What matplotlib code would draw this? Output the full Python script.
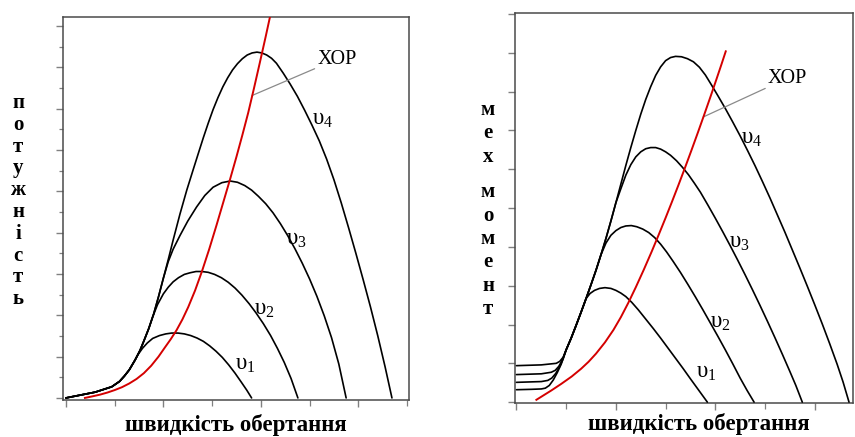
import matplotlib
matplotlib.use("Agg")
import matplotlib.pyplot as plt
from matplotlib.ticker import MultipleLocator

plt.rcParams["mathtext.fontset"] = "custom"
plt.rcParams["mathtext.rm"] = "Liberation Serif"
plt.rcParams["mathtext.it"] = "Liberation Serif:italic"

# ---------------- power vs rotation speed ----------------
# common rising part shared by all four curves
power_rise_x = [0.0, 0.3, 0.6, 0.94, 1.1, 1.2, 1.3, 1.42, 1.52, 1.6, 1.7, 1.8, 1.9,
                2.0, 2.1, 2.2, 2.34, 2.48, 2.61, 2.72, 2.82, 2.92, 3.02, 3.12, 3.22,
                3.32, 3.42, 3.52, 3.62, 3.72, 3.82]
power_rise_y = [0.0, 0.07, 0.14, 0.27, 0.40, 0.53, 0.68, 0.92, 1.15, 1.38, 1.68, 2.03, 2.45,
                2.90, 3.35, 3.82, 4.45, 5.03, 5.52, 5.93, 6.30, 6.65, 6.98, 7.27, 7.53,
                7.75, 7.94, 8.09, 8.21, 8.30, 8.35]

power_v1_x = [1.48, 1.57, 1.67, 1.78, 1.92, 2.05, 2.17, 2.30, 2.43, 2.56, 2.69, 2.82,
              2.95, 3.08, 3.21, 3.34, 3.47, 3.60, 3.71, 3.81]
power_v1_y = [1.05, 1.20, 1.33, 1.44, 1.51, 1.55, 1.57, 1.57, 1.55, 1.51, 1.45, 1.37,
              1.26, 1.13, 0.98, 0.80, 0.60, 0.38, 0.19, 0.0]
power_v2_x = [1.78, 1.88, 2.00, 2.10, 2.20, 2.31, 2.43, 2.55, 2.67, 2.79, 2.92, 3.05,
              3.19, 3.33, 3.47, 3.61, 3.76, 3.90, 4.05, 4.20, 4.34, 4.48, 4.62, 4.76]
power_v2_y = [1.96, 2.26, 2.52, 2.68, 2.81, 2.91, 2.99, 3.03, 3.06, 3.06, 3.04, 2.99,
              2.91, 2.80, 2.66, 2.49, 2.28, 2.06, 1.80, 1.51, 1.20, 0.86, 0.47, 0.0]
power_v3_x = [2.10, 2.20, 2.34, 2.50, 2.68, 2.85, 3.02, 3.20, 3.37, 3.52, 3.67, 3.81,
              3.95, 4.10, 4.25, 4.40, 4.55, 4.70, 4.85, 5.00, 5.15, 5.30, 5.45, 5.60, 5.75]
power_v3_y = [3.30, 3.60, 3.93, 4.28, 4.62, 4.90, 5.10, 5.21, 5.25, 5.22, 5.14, 5.03,
              4.88, 4.70, 4.48, 4.22, 3.93, 3.61, 3.26, 2.88, 2.46, 1.99, 1.46, 0.82, 0.0]
power_v4_x = [3.92, 4.02, 4.12, 4.22, 4.32, 4.46, 4.60, 4.75, 4.90, 5.05, 5.20, 5.35,
              5.50, 5.65, 5.80, 5.95, 6.10, 6.25, 6.40, 6.55, 6.69]
power_v4_y = [8.37, 8.35, 8.30, 8.22, 8.10, 7.86, 7.60, 7.30, 6.96, 6.60, 6.22, 5.78,
              5.28, 4.72, 4.12, 3.50, 2.86, 2.20, 1.50, 0.75, 0.0]

power_hop_x = [0.39, 0.55, 0.70, 0.85, 1.00, 1.15, 1.30, 1.45, 1.60, 1.75, 1.90, 2.03,
               2.15, 2.27, 2.39, 2.51, 2.65, 2.79, 2.94, 3.09, 3.23, 3.37, 3.50, 3.62,
               3.74, 3.86, 3.98, 4.10, 4.22]
power_hop_y = [0.0, 0.04, 0.08, 0.13, 0.19, 0.26, 0.35, 0.46, 0.60, 0.78, 1.00, 1.22,
               1.42, 1.64, 1.90, 2.20, 2.60, 3.06, 3.60, 4.18, 4.74, 5.30, 5.84, 6.36,
               6.90, 7.50, 8.12, 8.75, 9.40]

# ---------------- torque vs rotation speed ----------------
torque_rise_x = [1.0, 1.1, 1.2, 1.3, 1.4, 1.5, 1.6, 1.7, 1.8, 1.9, 2.0, 2.1, 2.2, 2.3,
                 2.4, 2.5, 2.6, 2.7, 2.8, 2.9, 3.0, 3.1]
torque_rise_y = [1.35, 1.65, 1.98, 2.32, 2.67, 3.03, 3.40, 3.80, 4.22, 4.67, 5.14, 5.62,
                 6.10, 6.56, 7.00, 7.42, 7.80, 8.13, 8.42, 8.64, 8.80, 8.88]

# starting (low speed) parts of each curve
torque_start_v1_x = [0.0, 0.3, 0.5, 0.58, 0.66, 0.74, 0.82, 0.90]
torque_start_v1_y = [0.32, 0.33, 0.34, 0.36, 0.43, 0.57, 0.76, 0.98]
torque_start_v2_x = [0.0, 0.5, 0.63, 0.71, 0.79, 0.87, 0.94]
torque_start_v2_y = [0.51, 0.53, 0.56, 0.62, 0.74, 0.92, 1.12]
torque_start_v3_x = [0.0, 0.5, 0.70, 0.78, 0.85, 0.92]
torque_start_v3_y = [0.71, 0.73, 0.77, 0.82, 0.92, 1.08]
torque_start_v4_x = [0.0, 0.5, 0.80, 0.87, 0.94]
torque_start_v4_y = [0.94, 0.96, 1.00, 1.05, 1.16]

torque_v1_x = [1.48, 1.57, 1.67, 1.78, 1.90, 2.00, 2.10, 2.20, 2.32, 2.45, 2.60, 2.75,
               2.90, 3.05, 3.20, 3.35, 3.50, 3.67, 3.84]
torque_v1_y = [2.80, 2.88, 2.93, 2.95, 2.93, 2.88, 2.81, 2.72, 2.57, 2.38, 2.14, 1.90,
               1.65, 1.39, 1.13, 0.87, 0.60, 0.30, 0.0]
torque_v2_x = [1.80, 1.90, 2.00, 2.10, 2.20, 2.31, 2.42, 2.54, 2.66, 2.78, 2.90, 3.02,
               3.15, 3.30, 3.45, 3.60, 3.75, 3.90, 4.05, 4.20, 4.35, 4.50, 4.64, 4.78]
torque_v2_y = [4.10, 4.30, 4.42, 4.50, 4.54, 4.55, 4.52, 4.46, 4.37, 4.24, 4.07, 3.87,
               3.63, 3.34, 3.03, 2.71, 2.38, 2.04, 1.70, 1.35, 0.99, 0.62, 0.30, 0.0]
torque_v3_x = [2.10, 2.20, 2.30, 2.40, 2.50, 2.60, 2.70, 2.80, 2.90, 3.00, 3.10, 3.22,
               3.34, 3.46, 3.58, 3.70, 3.85, 4.00, 4.15, 4.30, 4.45, 4.60, 4.75, 4.90,
               5.05, 5.20, 5.35, 5.50, 5.62, 5.75]
torque_v3_y = [5.50, 5.85, 6.12, 6.32, 6.45, 6.53, 6.56, 6.56, 6.52, 6.45, 6.36, 6.22,
               6.05, 5.86, 5.64, 5.41, 5.08, 4.74, 4.39, 4.03, 3.66, 3.28, 2.89, 2.49,
               2.08, 1.66, 1.23, 0.79, 0.43, 0.0]
torque_v4_x = [3.20, 3.32, 3.44, 3.56, 3.68, 3.80, 3.92, 4.05, 4.20, 4.35, 4.50, 4.65,
               4.80, 4.95, 5.10, 5.25, 5.40, 5.55, 5.70, 5.85, 6.00, 6.15, 6.30, 6.45,
               6.57, 6.69]
torque_v4_y = [8.91, 8.90, 8.85, 8.77, 8.63, 8.43, 8.18, 7.90, 7.57, 7.22, 6.86, 6.48,
               6.09, 5.68, 5.26, 4.82, 4.38, 3.92, 3.46, 2.99, 2.51, 2.02, 1.51, 0.98,
               0.52, 0.0]

torque_hop_x = [0.40, 0.55, 0.70, 0.90, 1.11, 1.30, 1.45, 1.60, 1.78, 1.95, 2.10, 2.25,
                2.40, 2.56, 2.72, 2.86, 3.00, 3.13, 3.26, 3.39, 3.52, 3.65, 3.78, 3.90,
                4.02, 4.12, 4.21]
torque_hop_y = [0.06, 0.18, 0.30, 0.47, 0.66, 0.86, 1.04, 1.25, 1.54, 1.86, 2.19, 2.56,
                2.96, 3.41, 3.88, 4.31, 4.75, 5.17, 5.60, 6.04, 6.49, 6.95, 7.42, 7.86,
                8.31, 8.69, 9.04]

curve_names = [r"$\mathrm{υ}_{1}$", r"$\mathrm{υ}_{2}$", r"$\mathrm{υ}_{3}$", r"$\mathrm{υ}_{4}$"]
power_label_xy = [(3.68, 0.83), (4.07, 2.16), (4.72, 3.86), (5.27, 6.76)]
torque_label_xy = [(3.81, 0.79), (4.11, 2.08), (4.48, 4.14), (4.74, 6.81)]

x_title = "швидкість обертання"
power_title = "потужність"
torque_title = ["мех", "момент"]
hop_text = "ХОР"

W, H = 855, 437
fig = plt.figure(figsize=(W / 100, H / 100), dpi=100)

SPINE = "#4a4a4a"
TICK = "#808080"
LINE_W = 1.2
RED = "#d40000"


def join(rx, ry, bx, by):
    xs = [x for x in rx if x < bx[0]]
    ys = ry[:len(xs)]
    return xs + list(bx), ys + list(by)


def style(ax, xlim, ylim, minor_y):
    ax.set_xlim(*xlim)
    ax.set_ylim(*ylim)
    for s in ax.spines.values():
        s.set_color(SPINE)
        s.set_linewidth(1.1)
    ax.xaxis.set_major_locator(MultipleLocator(2))
    ax.xaxis.set_minor_locator(MultipleLocator(1))
    ax.yaxis.set_major_locator(MultipleLocator(1))
    if minor_y:
        ax.yaxis.set_minor_locator(MultipleLocator(0.5))
    ax.tick_params(which="major", direction="out", length=5, width=1.0, color=TICK,
                   labelbottom=False, labelleft=False)
    ax.tick_params(which="minor", direction="out", length=3, width=0.9, color=TICK)
    ax.tick_params(axis="x", which="minor", length=4)


def px(x, y):
    return x / W, 1 - y / H


line_kw = dict(color="black", lw=LINE_W, solid_joinstyle="round",
               solid_capstyle="round", zorder=3)
label_kw = dict(fontsize=16.5, ha="center", va="center", zorder=5)
hop_kw = dict(fontsize=14.5, family="Liberation Serif", va="center", ha="left",
              arrowprops=dict(arrowstyle="-", color="#8a8a8a", lw=0.9,
                              shrinkA=0, shrinkB=0))

# ---- power panel ----
ax1 = fig.add_axes([63 / W, 1 - 400 / H, 346 / W, 383 / H])
style(ax1, (-0.06, 7.04), (-0.05, 9.22), True)
for bx, by in [(power_v1_x, power_v1_y), (power_v2_x, power_v2_y),
               (power_v3_x, power_v3_y), (power_v4_x, power_v4_y)]:
    xs, ys = join(power_rise_x, power_rise_y, bx, by)
    ax1.plot(xs, ys, **line_kw)
ax1.plot(power_hop_x, power_hop_y, color=RED, lw=1.4, zorder=4)
ax1.annotate(hop_text, xy=(3.82, 7.32), xytext=(5.16, 8.20), textcoords="data", **hop_kw)
for name, (lx, ly) in zip(curve_names, power_label_xy):
    ax1.text(lx, ly, name, **label_kw)

# ---- torque panel ----
ax2 = fig.add_axes([515 / W, 1 - 403.3 / H, 338 / W, 390 / H])
style(ax2, (-0.03, 6.77), (-0.03, 10.02), False)
starts = [(torque_start_v1_x, torque_start_v1_y), (torque_start_v2_x, torque_start_v2_y),
          (torque_start_v3_x, torque_start_v3_y), (torque_start_v4_x, torque_start_v4_y)]
branches = [(torque_v1_x, torque_v1_y), (torque_v2_x, torque_v2_y),
            (torque_v3_x, torque_v3_y), (torque_v4_x, torque_v4_y)]
for (sx, sy), (bx, by) in zip(starts, branches):
    rx, ry = join(torque_rise_x, torque_rise_y, bx, by)
    ax2.plot(list(sx) + rx, list(sy) + ry, **line_kw)
ax2.plot(torque_hop_x, torque_hop_y, color=RED, lw=1.4, zorder=4)
ax2.annotate(hop_text, xy=(3.76, 7.35), xytext=(5.06, 8.35), textcoords="data", **hop_kw)
for name, (lx, ly) in zip(curve_names, torque_label_xy):
    ax2.text(lx, ly, name, **label_kw)

# ---- axis titles ----
title_font = dict(family="Liberation Serif", weight="bold")
fig.text(*px(236, 425), x_title, ha="center", va="center", fontsize=16.5, **title_font)
fig.text(*px(699, 424), x_title, ha="center", va="center", fontsize=16.5, **title_font)

for i, ch in enumerate(power_title):
    fig.text(*px(18, 103 + i * 21.8), ch, ha="center", va="center",
             fontsize=15, **title_font)

ypos = 110
for w, word in enumerate(torque_title):
    if w:
        ypos += 12
    for ch in word:
        fig.text(*px(488, ypos), ch, ha="center", va="center", fontsize=15, **title_font)
        ypos += 23.4

fig.savefig("out.png", dpi=100)
